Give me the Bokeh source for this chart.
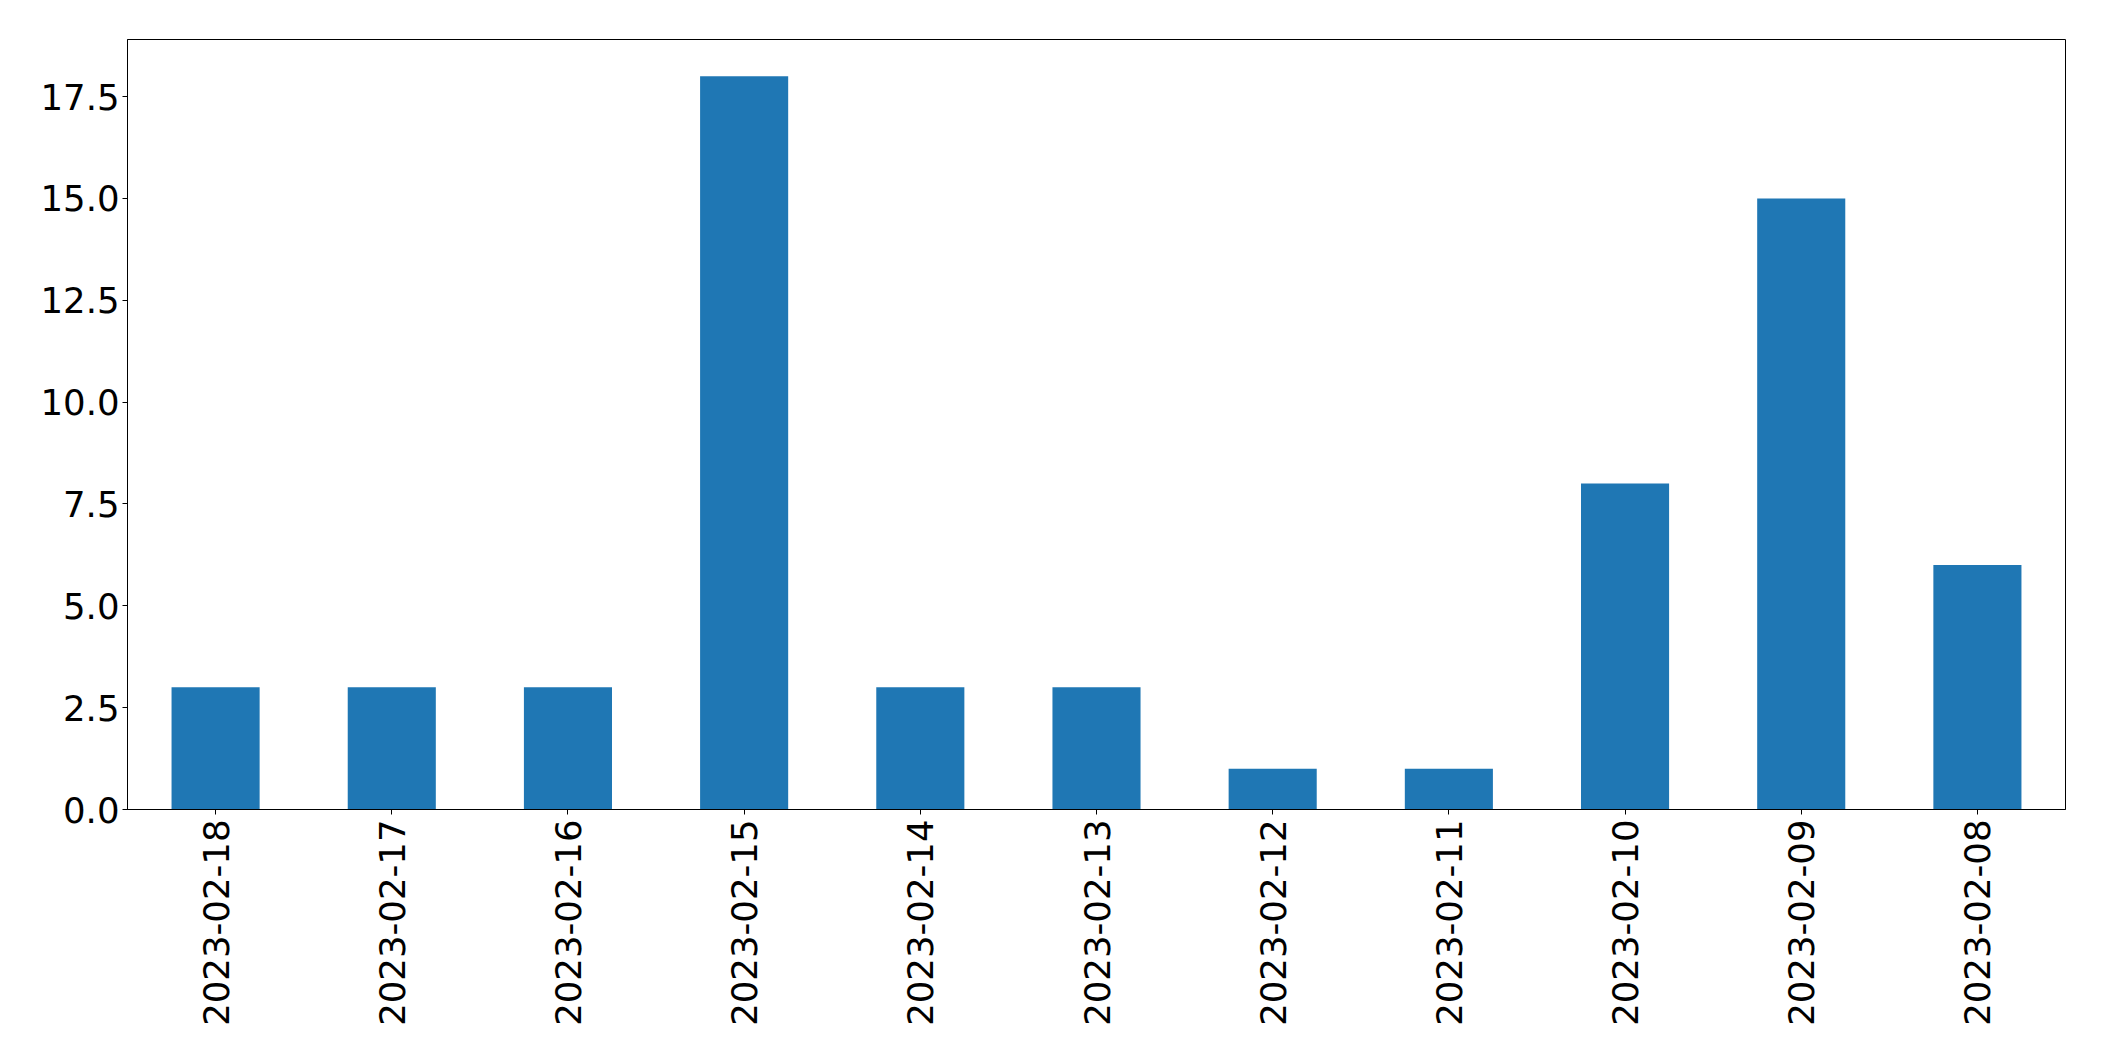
from bokeh.plotting import figure
from bokeh.models import FixedTicker, NumeralTickFormatter, Range1d, FactorRange
from bokeh.embed import file_html
from bokeh.resources import INLINE
import math

dates = ["2023-02-18", "2023-02-17", "2023-02-16", "2023-02-15", "2023-02-14",
         "2023-02-13", "2023-02-12", "2023-02-11", "2023-02-10", "2023-02-09",
         "2023-02-08"]
counts = [3, 3, 3, 18, 3, 3, 1, 1, 8, 15, 6]
y_ticks = [0.0, 2.5, 5.0, 7.5, 10.0, 12.5, 15.0, 17.5]

p = figure(x_range=FactorRange(factors=dates, range_padding=0),
           y_range=Range1d(0, 18.9),
           width=2088, height=1045,
           output_backend="svg", toolbar_location=None,
           min_border_left=127, min_border_right=23,
           min_border_top=39, min_border_bottom=236)

p.vbar(x=dates, top=counts, width=0.5, color="#1f77b4", line_color=None)

p.xgrid.visible = False
p.ygrid.visible = False
p.outline_line_color = "black"
p.outline_line_width = 1
p.outline_line_alpha = 1

p.yaxis.ticker = FixedTicker(ticks=y_ticks)
p.yaxis.formatter = NumeralTickFormatter(format="0.0")

for ax in (p.xaxis[0], p.yaxis[0]):
    ax.axis_line_color = "black"
    ax.axis_line_width = 1
    ax.major_tick_line_color = "black"
    ax.major_tick_in = 0
    ax.major_tick_out = 5
    ax.minor_tick_line_color = None
    ax.major_label_text_font = "DejaVu Sans"
    ax.major_label_text_font_size = "35.5px"
    ax.major_label_text_color = "black"

p.yaxis.major_label_standoff = 3
p.xaxis.major_label_standoff = 5
p.xaxis.major_label_orientation = math.pi / 2

p.background_fill_color = "white"
p.border_fill_color = "white"

open("out.html", "w").write(file_html(p, INLINE))
